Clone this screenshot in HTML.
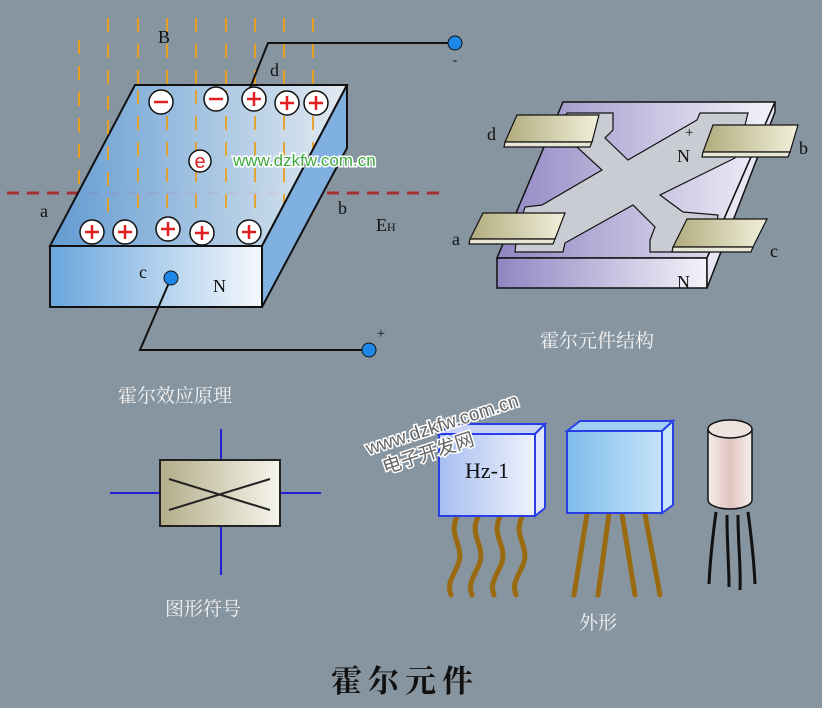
<!DOCTYPE html>
<html><head><meta charset="utf-8"><style>
body{margin:0;background:#8795a0;}
svg{display:block}
.sf{font-family:"Liberation Serif","Noto Serif CJK SC",serif;}
.ss{font-family:"Liberation Sans","Noto Sans CJK SC",sans-serif;}
</style></head><body>
<svg width="822" height="708" viewBox="0 0 822 708" xmlns="http://www.w3.org/2000/svg">
<defs>
<linearGradient id="bt" x1="0" x2="1" y1="0" y2="0"><stop offset="0" stop-color="#5d9bd6"/><stop offset="1" stop-color="#eef4fb"/></linearGradient>
<linearGradient id="bf" x1="0" x2="1"><stop offset="0" stop-color="#6aa6dc"/><stop offset="1" stop-color="#f4f8fc"/></linearGradient>
<linearGradient id="pt" x1="0" x2="1"><stop offset="0" stop-color="#8f86c2"/><stop offset="1" stop-color="#f4f3fa"/></linearGradient>
<linearGradient id="pad" x1="0" x2="1"><stop offset="0" stop-color="#b0ab7c"/><stop offset="1" stop-color="#f2f0dc"/></linearGradient>
<linearGradient id="sym" x1="0" x2="1"><stop offset="0" stop-color="#b3ad88"/><stop offset="1" stop-color="#f6f5ec"/></linearGradient>
<linearGradient id="chip" x1="0" x2="1"><stop offset="0" stop-color="#a7bef0"/><stop offset="1" stop-color="#eef2fc"/></linearGradient>
<linearGradient id="chip2" x1="0" x2="1"><stop offset="0" stop-color="#7fbcec"/><stop offset="1" stop-color="#c5e3f8"/></linearGradient>
<linearGradient id="cyl" x1="0" x2="1"><stop offset="0" stop-color="#f3eeec"/><stop offset="0.5" stop-color="#e2c4bf"/><stop offset="1" stop-color="#f3eeec"/></linearGradient>
</defs>

<g stroke="#e8a020" stroke-width="2" stroke-dasharray="14,12">
<line x1="79" y1="40" x2="79" y2="215"/><line x1="108" y1="18" x2="108" y2="215"/><line x1="138" y1="18" x2="138" y2="215"/><line x1="167" y1="18" x2="167" y2="215"/><line x1="196" y1="18" x2="196" y2="215"/><line x1="226" y1="18" x2="226" y2="215"/><line x1="255" y1="18" x2="255" y2="215"/><line x1="284" y1="18" x2="284" y2="215"/><line x1="313" y1="18" x2="313" y2="215"/>
</g>
<line x1="7" y1="193" x2="443" y2="193" stroke="#a83030" stroke-width="3" stroke-dasharray="12,8"/>

<polygon points="135,85 347,85 262,246 50,246" fill="url(#bt)" fill-opacity="0.9" stroke="#111" stroke-width="2"/>
<g stroke="#e8a020" stroke-width="2" stroke-dasharray="14,12" opacity="0.9">
<line x1="108" y1="120" x2="108" y2="215"/><line x1="138" y1="90" x2="138" y2="215"/><line x1="167" y1="90" x2="167" y2="215"/><line x1="196" y1="90" x2="196" y2="215"/><line x1="226" y1="90" x2="226" y2="215"/><line x1="255" y1="90" x2="255" y2="215"/><line x1="284" y1="90" x2="284" y2="215"/><line x1="313" y1="90" x2="313" y2="215"/>
</g>
<polygon points="50,246 262,246 262,307 50,307" fill="url(#bf)" stroke="#111" stroke-width="2"/>
<polygon points="347,85 347,148 262,307 262,246" fill="#7fb0df" stroke="#111" stroke-width="2"/>

<g stroke="#111" stroke-width="1.5" fill="#fff">
<circle cx="161" cy="102" r="12"/><circle cx="216" cy="99" r="12"/><circle cx="254" cy="99" r="12"/><circle cx="287" cy="103" r="12"/><circle cx="316" cy="103" r="12"/><circle cx="200" cy="161" r="11"/>
<circle cx="92" cy="232" r="12"/><circle cx="125" cy="232" r="12"/><circle cx="168" cy="229" r="12"/><circle cx="202" cy="233" r="12"/><circle cx="249" cy="232" r="12"/>
</g>
<g stroke="#e02020" stroke-width="2.5">
<line x1="154" y1="102" x2="168" y2="102"/><line x1="209" y1="99" x2="223" y2="99"/>
<path d="M247 99h14M254 92v14M280 103h14M287 96v14M309 103h14M316 96v14"/>
<path d="M85 232h14M92 225v14M118 232h14M125 225v14M161 229h14M168 222v14M195 233h14M202 226v14M242 232h14M249 225v14"/>
</g>
<text x="200" y="168" font-size="20" fill="#e02020" text-anchor="middle" class="ss">e</text>

<polyline points="250,88 268,43 455,43" fill="none" stroke="#111" stroke-width="2"/>
<circle cx="455" cy="43" r="7" fill="#1e88e8" stroke="#111"/>
<text x="455" y="64" font-size="14" fill="#111" text-anchor="middle" class="sf">-</text>
<polyline points="171,278 140,350 369,350" fill="none" stroke="#111" stroke-width="2"/>
<circle cx="171" cy="278" r="7" fill="#1e88e8" stroke="#111"/>
<circle cx="369" cy="350" r="7" fill="#1e88e8" stroke="#111"/>
<text x="381" y="338" font-size="15" fill="#111" text-anchor="middle" class="sf">+</text>

<g font-size="18" fill="#111" class="sf">
<text x="158" y="43">B</text><text x="270" y="76">d</text><text x="40" y="217">a</text><text x="338" y="214">b</text>
<text x="376" y="231">E<tspan font-size="12">H</tspan></text><text x="139" y="278">c</text><text x="213" y="292">N</text>
</g>
<text x="233" y="166" font-size="17" fill="#3caa3c" stroke="#fff" stroke-width="3" paint-order="stroke" class="ss">www.dzkfw.com.cn</text>

<polygon points="563,102 775,102 707,258 497,258" fill="url(#pt)" stroke="#111" stroke-width="1.5"/>
<polygon points="497,258 707,258 707,288 497,288" fill="url(#pt)" stroke="#111" stroke-width="1.5"/>
<polygon points="775,102 775,112 707,288 707,258" fill="#e8e6f4" stroke="#111" stroke-width="1.5"/>
<polygon points="567,113 613,113 613,130 605,138 628,160 697,120 700,113 748,113 745,125 735,158 660,195 683,212 718,215 713,252 650,252 650,240 655,227 633,205 565,243 563,252 515,252 517,233 525,207 542,205 602,170 577,147 552,147 553,140" fill="#c9ccd3" stroke="#111" stroke-width="1.2"/>
<g stroke="#111" stroke-width="1.2">
<polygon points="517,115 599,115 592,142 505,142" fill="url(#pad)"/><polygon points="505,142 592,142 590,147 504,147" fill="#e8e6d4"/>
<polygon points="713,125 798,125 790,152 703,152" fill="url(#pad)"/><polygon points="703,152 790,152 788,157 702,157" fill="#e8e6d4"/>
<polygon points="483,213 565,213 555,239 470,239" fill="url(#pad)"/><polygon points="470,239 555,239 553,244 469,244" fill="#e8e6d4"/>
<polygon points="687,219 767,219 753,247 673,247" fill="url(#pad)"/><polygon points="673,247 753,247 751,252 672,252" fill="#e8e6d4"/>
</g>
<g font-size="18" fill="#111" class="sf">
<text x="487" y="140">d</text><text x="685" y="137" font-size="15">+</text><text x="677" y="162">N</text><text x="799" y="154">b</text>
<text x="452" y="245">a</text><text x="770" y="257">c</text><text x="677" y="288">N</text>
</g>
<g font-size="19" fill="#f4f4f4" class="sf">
<text x="597" y="347" text-anchor="middle">霍尔元件结构</text>
<text x="175" y="402" text-anchor="middle">霍尔效应原理</text>
<text x="203" y="615" text-anchor="middle">图形符号</text>
<text x="598" y="629" text-anchor="middle">外形</text>
</g>

<g stroke="#2020d8" stroke-width="2"><line x1="221" y1="429" x2="221" y2="575"/><line x1="110" y1="493" x2="321" y2="493"/></g>
<rect x="160" y="460" width="120" height="66" fill="url(#sym)" stroke="#222" stroke-width="2"/>
<g stroke="#222" stroke-width="2"><line x1="169" y1="479" x2="270" y2="510"/><line x1="169" y1="510" x2="270" y2="479"/></g>

<g fill="none" stroke="#9a6a10" stroke-width="5" stroke-linecap="round">
<path d="M457 517c-10 20 10 30 0 50s-8 20-6 28"/><path d="M478 517c-10 20 10 30 0 50s-8 20-6 28"/><path d="M500 517c-10 20 10 30 0 50s-8 20-6 28"/><path d="M522 517c-10 20 10 30 0 50s-8 20-6 28"/>
<line x1="587" y1="514" x2="574" y2="595"/><line x1="609" y1="514" x2="598" y2="595"/><line x1="622" y1="514" x2="635" y2="595"/><line x1="645" y1="514" x2="660" y2="595"/>
</g>
<polygon points="439,434 452,424 545,424 535,434" fill="#c8d4f6" stroke="#2a3ee8" stroke-width="2"/>
<polygon points="535,434 545,424 545,508 535,516" fill="#dfe6fb" stroke="#2a3ee8" stroke-width="2"/>
<rect x="439" y="434" width="96" height="82" fill="url(#chip)" stroke="#2a3ee8" stroke-width="2"/>
<text x="487" y="478" font-size="22" fill="#111" text-anchor="middle" class="sf">Hz-1</text>
<polygon points="567,431 580,421 673,421 662,431" fill="#9fd0f4" stroke="#2a3ee8" stroke-width="2"/>
<polygon points="662,431 673,421 673,505 662,513" fill="#c8e6fa" stroke="#2a3ee8" stroke-width="2"/>
<rect x="567" y="431" width="95" height="82" fill="url(#chip2)" stroke="#2a3ee8" stroke-width="2"/>

<g fill="none" stroke="#111" stroke-width="3">
<path d="M716 512c-4 30-6 50-7 72"/><path d="M727 515c0 30 2 50 2 72"/><path d="M738 515c0 30 3 50 2 75"/><path d="M748 512c4 30 6 50 7 72"/>
</g>
<path d="M708 430v70a22 9 0 0 0 44 0v-70z" fill="url(#cyl)" stroke="#111" stroke-width="1.5"/>
<ellipse cx="730" cy="429" rx="22" ry="9" fill="#efe3e0" stroke="#111" stroke-width="1.5"/>

<g transform="rotate(-18 460 420)" class="ss" fill="#666" stroke="#fff" stroke-width="3" paint-order="stroke">
<text x="362" y="425" font-size="19">www.dzkfw.com.cn</text>
<text x="372" y="448" font-size="19">电子开发网</text>
</g>

<text x="405" y="692" font-size="31" font-weight="bold" fill="#111" text-anchor="middle" letter-spacing="6" style="font-family:'Noto Serif CJK SC',serif">霍尔元件</text>
</svg>
</body></html>
